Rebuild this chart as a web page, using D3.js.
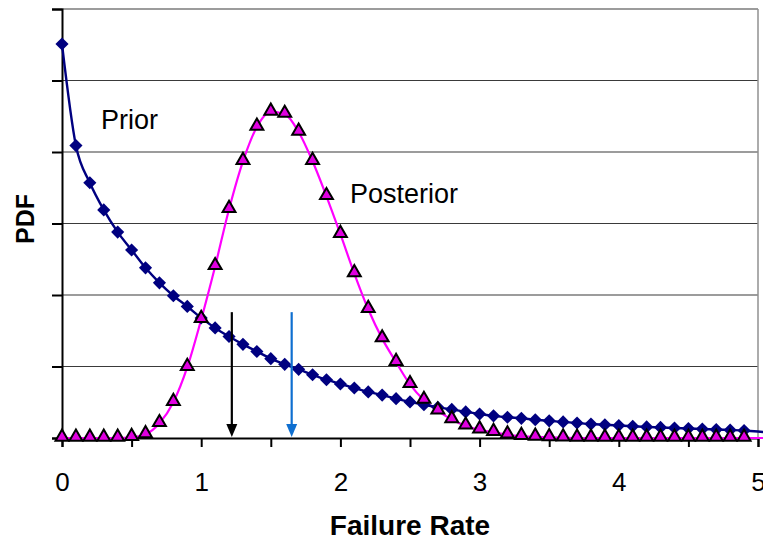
<!DOCTYPE html>
<html>
<head>
<meta charset="utf-8">
<script src="https://cdn.jsdelivr.net/npm/d3@7"></script>
<style>
  body { margin: 0; background: #fff; }
  text { font-family: Arial, "Liberation Sans", sans-serif; }
</style>
</head>
<body>
<script>
// failure rate grid (x) and the two pdf curves
const failureRate = [0, 0.1, 0.2, 0.3, 0.4, 0.5, 0.6, 0.7, 0.8, 0.9,
  1.0, 1.1, 1.2, 1.3, 1.4, 1.5, 1.6, 1.7, 1.8, 1.9,
  2.0, 2.1, 2.2, 2.3, 2.4, 2.5, 2.6, 2.7, 2.8, 2.9,
  3.0, 3.1, 3.2, 3.3, 3.4, 3.5, 3.6, 3.7, 3.8, 3.9,
  4.0, 4.1, 4.2, 4.3, 4.4, 4.5, 4.6, 4.7, 4.8, 4.9,
  5.0, 5.1]

const prior = [5.51, 4.09, 3.57, 3.19, 2.88, 2.63, 2.38, 2.17, 1.99, 1.84,
  1.68, 1.54, 1.42, 1.31, 1.21, 1.11, 1.03, 0.96, 0.885, 0.815,
  0.755, 0.70, 0.645, 0.60, 0.55, 0.505, 0.465, 0.43, 0.40, 0.365,
  0.335, 0.31, 0.29, 0.275, 0.255, 0.24, 0.225, 0.21, 0.195, 0.185,
  0.175, 0.165, 0.155, 0.148, 0.14, 0.133, 0.125, 0.118, 0.112, 0.105,
  0.09, 0.07]

const posterior = [0, 0, 0, 0, 0, 0.01, 0.05, 0.205, 0.50, 0.99,
  1.66, 2.40, 3.20, 3.87, 4.35, 4.56, 4.53, 4.28, 3.87, 3.38,
  2.85, 2.30, 1.80, 1.39, 1.06, 0.75, 0.53, 0.38, 0.26, 0.17,
  0.115, 0.08, 0.045, 0.025, 0.015, 0.008, 0.004, 0, 0, 0,
  0, 0, 0, 0, 0, 0, 0, 0, 0, 0,
  0, 0]

const xTicks = [0, 0.5, 1, 1.5, 2, 2.5, 3, 3.5, 4, 4.5, 5]
const xLabels = [0, 1, 2, 3, 4, 5]
const yGrid = [0, 1, 2, 3, 4, 5, 6]

// the two vertical arrows (failure rate, top of arrow in pdf units)
const arrows = [
  {x: 1.22, top: 1.76, color: '#000000'},
  {x: 1.65, top: 1.76, color: '#0f6fd0'}
]

const W = 763, H = 541

const svg = d3.select('body').append('svg')
  .attr('width', W)
  .attr('height', H)

const xScale = d3.scaleLinear().domain([0, 5]).range([62, 758])
const yScale = d3.scaleLinear().domain([0, 6]).range([438, 9])

const priorData = failureRate.map((x, i) => ({x: x, y: prior[i]}))
const postData = failureRate.map((x, i) => ({x: x, y: posterior[i]}))

// gridlines
svg.append('g').selectAll('line.grid')
  .data(yGrid.slice(1))
  .enter().append('line')
  .attr('class', 'grid')
  .attr('x1', xScale(0))
  .attr('x2', xScale(5))
  .attr('y1', d => yScale(d))
  .attr('y2', d => yScale(d))
  .style('stroke', '#3a3a3a')
  .style('stroke-width', 1.2)

// right border of plot area
svg.append('line')
  .attr('x1', xScale(5)).attr('x2', xScale(5))
  .attr('y1', yScale(6)).attr('y2', yScale(0))
  .style('stroke', '#909090')
  .style('stroke-width', 1.5)

// y axis, ticks without labels
const yAxis = d3.axisLeft(yScale).tickValues(yGrid).tickFormat('').tickSizeOuter(0).tickSize(10)
const gy = svg.append('g').attr('transform', `translate(${xScale(0)},0)`).call(yAxis)
gy.selectAll('path, line').style('stroke', '#000').style('stroke-width', 2)

// x axis
const xAxis = d3.axisBottom(xScale).tickValues(xTicks).tickSizeOuter(0).tickSize(9)
  .tickFormat(d => xLabels.includes(d) ? d : '')
const gx = svg.append('g').attr('transform', `translate(0,${yScale(0)})`).call(xAxis)
gx.selectAll('path, line').style('stroke', '#000').style('stroke-width', 2)
gx.selectAll('text')
  .attr('y', 0)
  .attr('dy', 53)
  .style('font-size', '26px')
  .style('font-family', 'Arial, "Liberation Sans", sans-serif')
  .style('fill', '#000')

// curves
const line = d3.line()
  .x(d => xScale(d.x))
  .y(d => yScale(d.y))
  .curve(d3.curveMonotoneX)

svg.append('path')
  .datum(postData)
  .attr('d', line)
  .style('fill', 'none')
  .style('stroke', '#ff00ff')
  .style('stroke-width', 2.2)

svg.append('path')
  .datum(priorData)
  .attr('d', line)
  .style('fill', 'none')
  .style('stroke', '#000080')
  .style('stroke-width', 2.4)

// markers only inside the plot area
const inside = d => d.x < 5

svg.append('g').selectAll('path.diamond')
  .data(priorData.filter(inside))
  .enter().append('path')
  .attr('class', 'diamond')
  .attr('d', d3.symbol().type(d3.symbolDiamond2).size(110))
  .attr('transform', d => `translate(${xScale(d.x)},${yScale(d.y)})`)
  .style('fill', '#000080')

const tri = d3.symbol().type(d3.symbolTriangle).size(72)

svg.append('g').selectAll('path.tri')
  .data(postData.filter(inside))
  .enter().append('path')
  .attr('class', 'tri')
  .attr('d', tri)
  .attr('transform', d => `translate(${xScale(d.x)},${yScale(d.y) - 1})`)
  .style('fill', '#e000e0')
  .style('stroke', '#000')
  .style('stroke-width', 2)

// arrows pointing down to the axis
const arrowG = svg.append('g').selectAll('g.arrow')
  .data(arrows)
  .enter().append('g')
  .attr('class', 'arrow')

arrowG.append('line')
  .attr('x1', d => xScale(d.x))
  .attr('x2', d => xScale(d.x))
  .attr('y1', d => yScale(d.top))
  .attr('y2', yScale(0) - 10)
  .style('stroke', d => d.color)
  .style('stroke-width', 2.2)

arrowG.append('path')
  .attr('d', d => {
    const x = xScale(d.x), y = yScale(0) - 1
    return `M${x - 5.5},${y - 13}L${x + 5.5},${y - 13}L${x},${y}Z`
  })
  .style('fill', d => d.color)

// series labels
svg.append('text')
  .attr('x', 101).attr('y', 129)
  .style('font-size', '27px')
  .text('Prior')

svg.append('text')
  .attr('x', 350).attr('y', 203)
  .style('font-size', '27px')
  .text('Posterior')

// axis titles
svg.append('text')
  .attr('x', 410).attr('y', 535)
  .attr('text-anchor', 'middle')
  .style('font-size', '28px')
  .style('font-weight', 'bold')
  .text('Failure Rate')

svg.append('text')
  .attr('transform', 'translate(34,219) rotate(-90)')
  .attr('text-anchor', 'middle')
  .style('font-size', '25px')
  .style('font-weight', 'bold')
  .text('PDF')
</script>
</body>
</html>
